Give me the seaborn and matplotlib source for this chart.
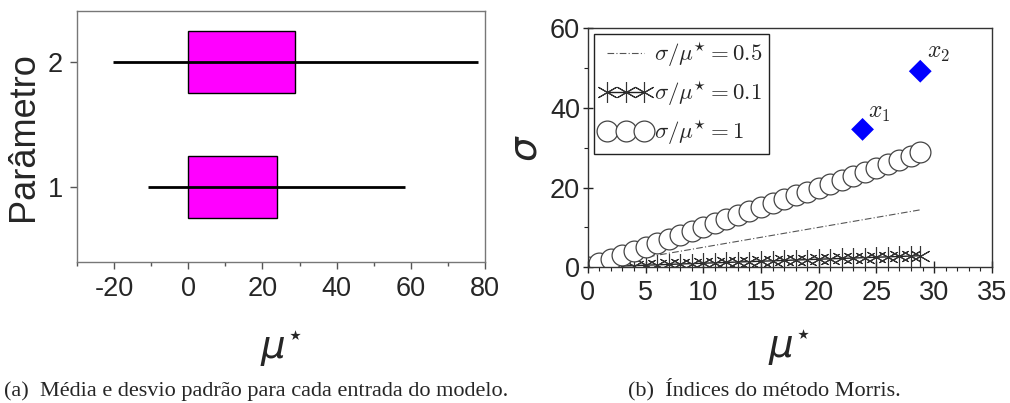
import numpy as np
import pandas as pd
import matplotlib
matplotlib.use("Agg")
import matplotlib.pyplot as plt
from matplotlib.ticker import MultipleLocator
import seaborn as sns

# ---- data ----
parameters = ["1", "2"]
mu_star = [23.8, 28.8]          # mean of elementary effects (mu*)
sigma = [34.6, 49.2]            # standard deviation
point_labels = [r"$x_1$", r"$x_2$"]
mu_grid = [0, 1, 2, 3, 4, 5, 6, 7, 8, 9, 10, 11, 12, 13, 14, 15, 16, 17, 18,
           19, 20, 21, 22, 23, 24, 25, 26, 27, 28, 28.8]
ratios = [0.5, 0.1, 1]
ratio_labels = [r"$\sigma/\mu^{\star}=0.5$", r"$\sigma/\mu^{\star}=0.1$", r"$\sigma/\mu^{\star}=1$"]
caption_a = "(a)  Média e desvio padrão para cada entrada do modelo."
caption_b = "(b)  Índices do método Morris."

sns.set_theme(style="ticks")
plt.rcParams["font.family"] = ["Liberation Sans", "DejaVu Sans"]
plt.rcParams["axes.unicode_minus"] = False
plt.rcParams["mathtext.fontset"] = "cm"

fig = plt.figure(figsize=(10.1, 4.03), dpi=100)
ax1 = fig.add_axes([0.0762, 0.350, 0.404, 0.623])
ax2 = fig.add_axes([0.582, 0.337, 0.400, 0.593])

# ---- left: bars with error lines ----
df = pd.DataFrame({"param": parameters, "mu": mu_star, "sigma": sigma})
order = ["2", "1"]
sns.barplot(data=df, x="mu", y="param", order=order, orient="h", width=0.5,
            color="#FF00FF", saturation=1, edgecolor="black", linewidth=1,
            errorbar=None, ax=ax1)
dfo = df.set_index("param").loc[order]
ax1.errorbar(dfo["mu"].values, np.arange(len(order)), xerr=dfo["sigma"].values,
             fmt="none", ecolor="black", elinewidth=2, capsize=0, zorder=5)
ax1.set_xlim(-30, 80)
ax1.set_ylim(1.6, -0.41)
ax1.xaxis.set_major_locator(MultipleLocator(20))
ax1.xaxis.set_minor_locator(MultipleLocator(10))
ax1.set_xlabel(r"$\mu^{\star}$", fontsize=28, math_fontfamily="dejavusans", labelpad=19)
ax1.set_ylabel("Parâmetro", fontsize=26, labelpad=5)
ax1.tick_params(axis="both", which="major", labelsize=19.5, direction="out", length=5,
                width=1, color="#555555", pad=5)
ax1.tick_params(axis="x", which="minor", direction="out", length=3, width=1, color="#555555")
for s in ax1.spines.values():
    s.set_color("#777777")
    s.set_linewidth(1)

# ---- right: Morris indices ----
grid = np.array(mu_grid)
ref = pd.DataFrame({"mu": grid})
sns.lineplot(x=ref["mu"], y=ratios[0] * ref["mu"], ax=ax2, color="#555555",
             linestyle=(0, (6, 2, 1, 2)), linewidth=0.8, label=ratio_labels[0])
sns.lineplot(x=ref["mu"][3:], y=ratios[1] * ref["mu"][3:], ax=ax2, color="#222222",
             linewidth=1, marker=(6, 2, 0), markersize=15, markeredgewidth=0.8,
             markeredgecolor="#333333", label=ratio_labels[1])
sns.lineplot(x=ref["mu"], y=ratios[2] * ref["mu"], ax=ax2, color="#333333",
             linestyle="none", marker="o", markersize=15, markerfacecolor="white",
             markeredgecolor="#444444", markeredgewidth=0.9, label=ratio_labels[2])
sns.scatterplot(x=mu_star, y=sigma, ax=ax2, marker="D", s=135, color="#0000FF",
                edgecolor="none", zorder=6)
offsets = [(0.5, 2.8), (0.6, 3.3)]
for (m, s_, lab, off) in zip(mu_star, sigma, point_labels, offsets):
    ax2.text(m + off[0], s_ + off[1], lab, fontsize=17, ha="left", va="baseline",
             math_fontfamily="cm")

ax2.set_xlim(0, 35)
ax2.set_ylim(0, 60)
ax2.xaxis.set_major_locator(MultipleLocator(5))
ax2.xaxis.set_minor_locator(MultipleLocator(1))
ax2.yaxis.set_major_locator(MultipleLocator(20))
ax2.yaxis.set_minor_locator(MultipleLocator(10))
ax2.set_xlabel(r"$\mu^{\star}$", fontsize=28, math_fontfamily="dejavusans", labelpad=15)
ax2.set_ylabel(r"$\sigma$", fontsize=28, math_fontfamily="dejavusans", labelpad=4)
ax2.tick_params(axis="x", which="major", labelsize=19.5, direction="inout", length=9,
                width=1, color="#222222", pad=5)
ax2.tick_params(axis="x", which="minor", direction="out", length=3, width=0.8, color="#222222")
ax2.tick_params(axis="y", which="major", labelsize=19.5, direction="inout", length=7,
                width=1, color="#222222", pad=2)
ax2.tick_params(axis="y", which="minor", direction="out", length=3, width=0.8, color="#222222")
for s in ax2.spines.values():
    s.set_color("#333333")
    s.set_linewidth(1)

leg = ax2.legend(loc="upper left", fontsize=16.5, numpoints=3, handlelength=2.2,
                 handletextpad=0.15, borderaxespad=0.25, borderpad=0.3,
                 labelspacing=0.45, fancybox=False, framealpha=1, edgecolor="#222222")
leg.get_frame().set_linewidth(1)
for t in leg.get_texts():
    t.set_math_fontfamily("cm")

fig.text(0.004, 0.018, caption_a, fontsize=16, family="Liberation Serif", ha="left", va="baseline")
fig.text(0.757, 0.018, caption_b, fontsize=16, family="Liberation Serif", ha="center", va="baseline")

fig.savefig("out.png", dpi=100)
